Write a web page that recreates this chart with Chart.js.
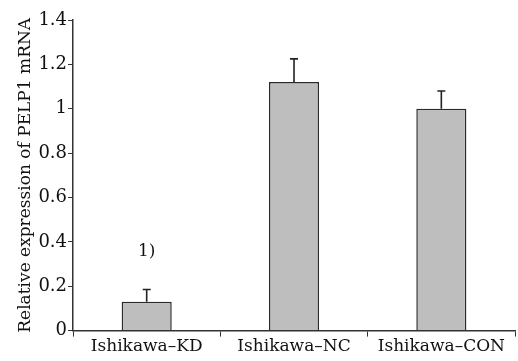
<!DOCTYPE html>
<html>
<head>
<meta charset="utf-8">
<script src="https://cdn.jsdelivr.net/npm/chart.js@4/dist/chart.umd.min.js"></script>
<style>
  html, body { margin: 0; padding: 0; background: #fff; }
  #wrap { width: 518px; height: 361px; }
</style>
</head>
<body>
<div id="wrap"><canvas id="myChart"></canvas></div>
<script>
// data
const categories = ["Ishikawa\u2013KD", "Ishikawa\u2013NC", "Ishikawa\u2013CON"];
const expression = [0.13, 1.12, 1.0];
const errors = [0.055, 0.105, 0.08];
const marks = ["1)", "", ""];

const serif = "'DejaVu Serif', 'Liberation Serif', serif";

// upward-only error bars and the "1)" mark
const errorBars = {
  id: "errorBars",
  afterDatasetsDraw(chart) {
    const ctx = chart.ctx;
    const y = chart.scales.y;
    const meta = chart.getDatasetMeta(0);
    ctx.save();
    ctx.strokeStyle = "#222";
    ctx.lineWidth = 1.6;
    meta.data.forEach((bar, i) => {
      const top = y.getPixelForValue(expression[i]);
      const end = y.getPixelForValue(expression[i] + errors[i]);
      ctx.beginPath();
      ctx.moveTo(bar.x, top);
      ctx.lineTo(bar.x, end);
      ctx.moveTo(bar.x - 4, end);
      ctx.lineTo(bar.x + 4, end);
      ctx.stroke();
      if (marks[i]) {
        ctx.fillStyle = "#111";
        ctx.font = "17px " + serif;
        ctx.textAlign = "center";
        ctx.textBaseline = "bottom";
        ctx.fillText(marks[i], bar.x, end - 29);
      }
    });
    ctx.restore();
  }
};

const config = {
  type: "bar",
  data: {
    labels: categories,
    datasets: [
      {
        data: expression,
        backgroundColor: "#bebebe",
        borderColor: "#2a2a2a",
        borderWidth: { top: 1.5, left: 1.5, right: 1.5, bottom: 0 },
        borderSkipped: "bottom",
        barPercentage: 0.34,
        categoryPercentage: 1.0,
      },
    ],
  },
  options: {
    responsive: true,
    maintainAspectRatio: false,
    animation: false,
    layout: { padding: { top: 20, right: 3, left: 13, bottom: 4 } },
    plugins: { legend: { display: false }, tooltip: { enabled: false } },
    scales: {
      x: {
        grid: {
          offset: true,
          drawOnChartArea: false,
          tickLength: 6,
          color: "#333",
        },
        border: { color: "#333", width: 1.5 },
        ticks: {
          color: "#111",
          font: { family: serif, size: 17 },
          padding: 0,
          maxRotation: 0,
        },
      },
      y: {
        min: 0,
        max: 1.4,
        grid: {
          drawOnChartArea: false,
          tickLength: 5,
          color: "#333",
        },
        border: { color: "#333", width: 1.5 },
        ticks: {
          stepSize: 0.2,
          color: "#111",
          font: { family: serif, size: 18 },
          padding: 1,
          callback: (v) => String(Math.round(v * 10) / 10),
        },
        title: {
          display: true,
          text: "Relative expression of PELP1 mRNA",
          color: "#111",
          font: { family: serif, size: 17 },
          padding: 2,
        },
      },
    },
  },
  plugins: [errorBars],
};

new Chart(document.getElementById("myChart"), config);
</script>
</body>
</html>
